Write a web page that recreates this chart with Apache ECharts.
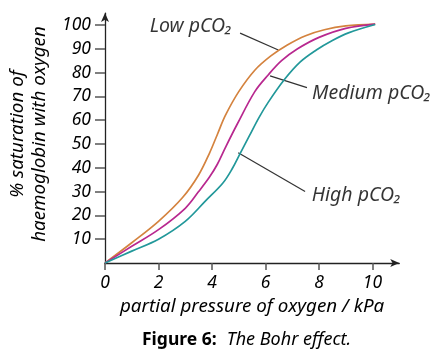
<!DOCTYPE html>
<html>
<head>
<meta charset="utf-8">
<script src="https://cdn.jsdelivr.net/npm/echarts@6/dist/echarts.min.js"></script>
<style>
  html, body { margin: 0; padding: 0; background: #fff; }
  #chart { width: 442px; height: 354px; }
</style>
</head>
<body>
<div id="chart"></div>
<script>
// tick labels
const xTicks = [0, 2, 4, 6, 8, 10];
const yTicks = [10, 20, 30, 40, 50, 60, 70, 80, 90, 100];

// curves: [partial pressure kPa, % saturation]
const lowCO2 = [[0, 0], [1, 8.5], [2, 17.5], [2.9, 27.5], [3.5, 37], [3.9, 46], [4.2, 54], [4.5, 62],
  [5, 72], [5.6, 81], [6.2, 87], [6.8, 91.5], [7.5, 95.5], [8.2, 98], [9, 99.6], [10.1, 100.4]];
const mediumCO2 = [[0, 0], [1, 7], [2, 14], [3, 23], [3.5, 30], [3.9, 36], [4.2, 41.5], [4.5, 48.5],
  [4.95, 58.5], [5.6, 72], [6.1, 79], [6.6, 85], [7.2, 90], [8, 94.8], [9, 98.6], [10.1, 100.4]];
const highCO2 = [[0, 0], [1, 5], [2, 10], [3, 17.5], [3.75, 26], [4.4, 33.5], [4.75, 39.5], [5.05, 46],
  [5.4, 53.5], [5.75, 61], [6.1, 67.5], [6.7, 77], [7.3, 84.5], [7.9, 89.5], [8.5, 93.5], [9.1, 96.7], [10.1, 100.2]];

const curveNames = ["Low pCO₂", "Medium pCO₂", "High pCO₂"];

// leader lines and label anchors (data units)
const leaderLines = [
  [[5.05, 96.6], [6.48, 89.5]],
  [[6.17, 78.6], [7.55, 73.7]],
  [[4.98, 46.3], [7.48, 30]],
];
const labelAnchors = [[4.75, 99.6], [7.74, 71.4], [7.73, 28.2]];

const FONT = "Noto Sans";
const INK = "#000";

const chart = echarts.init(document.getElementById("chart"), null, { renderer: "canvas" });

const curves = [lowCO2, mediumCO2, highCO2];
const colors = ["#d4833f", "#b8288f", "#22989a"];

const series = curves.map((d, i) => ({
  name: curveNames[i],
  type: "line",
  data: d,
  smooth: 0.35,
  showSymbol: false,
  silent: true,
  lineStyle: { color: colors[i], width: 1.7 },
}));

series.push({
  type: "lines",
  coordinateSystem: "cartesian2d",
  silent: true,
  data: leaderLines.map((c) => ({ coords: c })),
  lineStyle: { color: "#333", width: 1.2, opacity: 1 },
});

series.push({
  type: "scatter",
  symbolSize: 0,
  silent: true,
  data: labelAnchors.map((p, i) => ({
    value: p,
    label: { position: i === 0 ? "left" : "right" },
  })),
  label: {
    show: true,
    distance: 0,
    formatter: (p) => curveNames[p.dataIndex],
    fontFamily: FONT,
    fontStyle: "italic",
    fontSize: 19.5,
    color: INK,
  },
});

chart.setOption({
  animation: false,
  backgroundColor: "#fff",
  title: {
    text: "{b|Figure 6:}  {i|The Bohr effect.}",
    left: 137,
    top: 326,
    textStyle: {
      fontWeight: "normal",
      rich: {
        b: { fontFamily: FONT, fontWeight: "bold", fontSize: 17.5, color: INK },
        i: { fontFamily: FONT, fontWeight: "normal", fontStyle: "italic", fontSize: 18, color: INK },
      },
    },
  },
  grid: {
    left: 105,
    right: 42.75,
    top: 13.1,
    bottom: 91,
    outerBoundsMode: "none",
  },
  xAxis: {
    type: "value",
    min: 0,
    max: 11,
    name: "partial pressure of oxygen / kPa",
    nameLocation: "middle",
    nameGap: 33,
    nameTextStyle: { fontFamily: FONT, fontStyle: "italic", fontSize: 18.8, color: INK },
    axisLine: {
      onZero: false,
      symbol: ["none", "arrow"],
      symbolSize: [6, 9],
      lineStyle: { color: "#222", width: 1.3 },
    },
    axisTick: { customValues: xTicks, length: 7, lineStyle: { color: "#555", width: 1.5 } },
    axisLabel: {
      customValues: xTicks,
      margin: 11,
      fontFamily: FONT,
      fontStyle: "italic",
      fontSize: 17.5,
      color: INK,
    },
    splitLine: { show: false },
  },
  yAxis: {
    type: "value",
    min: 0,
    max: 105,
    name: "% saturation of\nhaemoglobin with oxygen",
    nameLocation: "middle",
    nameRotate: 90,
    nameGap: 54,
    nameTextStyle: {
      fontFamily: FONT,
      fontStyle: "italic",
      fontSize: 18.8,
      lineHeight: 22,
      color: INK,
      padding: [0, 0, 0, 8],
    },
    axisLine: {
      show: true,
      onZero: false,
      symbol: ["none", "arrow"],
      symbolSize: [6, 9],
      lineStyle: { color: "#222", width: 1.3 },
    },
    axisTick: { show: true, customValues: yTicks, length: 10, lineStyle: { color: "#555", width: 1.5 } },
    axisLabel: {
      customValues: yTicks,
      margin: 14,
      fontFamily: FONT,
      fontStyle: "italic",
      fontSize: 17.5,
      color: INK,
    },
    splitLine: { show: false },
  },
  series: series,
});
</script>
</body>
</html>
